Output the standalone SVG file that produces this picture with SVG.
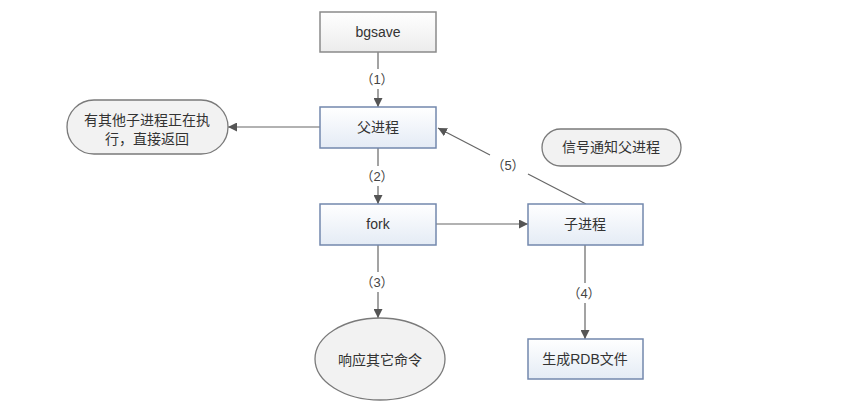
<svg xmlns="http://www.w3.org/2000/svg" width="861" height="408" viewBox="0 0 861 408">
<defs>
<linearGradient id="gGray" x1="0" y1="0" x2="0" y2="1"><stop offset="0" stop-color="#ffffff"/><stop offset="1" stop-color="#ececec"/></linearGradient>
<linearGradient id="gBlue" x1="0" y1="0" x2="0" y2="1"><stop offset="0" stop-color="#ffffff"/><stop offset="1" stop-color="#e4ebf5"/></linearGradient>
<marker id="arr" viewBox="0 0 10 10" refX="10" refY="5" markerWidth="9" markerHeight="9" markerUnits="userSpaceOnUse" orient="auto"><path d="M0,0 L10,5 L0,10 z" fill="#555"/></marker>
<style>
.gray{fill:url(#gGray);stroke:#8a8a8a;stroke-width:1.5}
.blue{fill:url(#gBlue);stroke:#7388ad;stroke-width:1.5}
.term{fill:#f2f2f2;stroke:#7a7a7a;stroke-width:1.3}
.t{font-family:"Liberation Sans","Noto Sans CJK SC",sans-serif;font-size:14px;fill:#333;text-anchor:middle;dominant-baseline:central}
.lbl{font-family:"Liberation Sans","Noto Sans CJK SC",sans-serif;font-size:13px;fill:#444;text-anchor:middle;dominant-baseline:central}
.c{stroke:#666;stroke-width:1.2;fill:none}
</style>
</defs>
<rect width="861" height="408" fill="#ffffff"/>
<g id="connectors">
<line class="c" x1="378" y1="52" x2="378" y2="69"/>
<line class="c" x1="378" y1="89" x2="378" y2="107" marker-end="url(#arr)"/>
<line class="c" x1="320" y1="127" x2="228" y2="127" marker-end="url(#arr)"/>
<line class="c" x1="378" y1="148" x2="378" y2="166"/>
<line class="c" x1="378" y1="186" x2="378" y2="204" marker-end="url(#arr)"/>
<line class="c" x1="436" y1="224" x2="528" y2="224" marker-end="url(#arr)"/>
<line class="c" x1="378" y1="245" x2="378" y2="272"/>
<line class="c" x1="378" y1="292" x2="378" y2="318" marker-end="url(#arr)"/>
<line class="c" x1="585" y1="245" x2="585" y2="283"/>
<line class="c" x1="585" y1="303" x2="585" y2="339" marker-end="url(#arr)"/>
<line class="c" x1="586" y1="204" x2="528" y2="174"/>
<line class="c" x1="490" y1="155" x2="438" y2="128" marker-end="url(#arr)"/>
<text class="lbl" x="377" y="79">（1）</text>
<text class="lbl" x="377" y="176">（2）</text>
<text class="lbl" x="377" y="282">（3）</text>
<text class="lbl" x="584" y="293">（4）</text>
<text class="lbl" x="508" y="165">（5）</text>
</g>
<g id="bgsave"><rect class="gray" x="320" y="12" width="116" height="40"/><text class="t" x="378" y="32">bgsave</text></g>
<g id="parent"><rect class="blue" x="320" y="107" width="116" height="41"/><text class="t" x="378" y="127">父进程</text></g>
<g id="other"><rect class="term" x="67" y="100" width="161" height="54" rx="27" ry="27"/><text class="t" x="147" y="120">有其他子进程正在执</text><text class="t" x="147" y="139">行，直接返回</text></g>
<g id="fork"><rect class="blue" x="320" y="204" width="116" height="41"/><text class="t" x="378" y="224">fork</text></g>
<g id="child"><rect class="blue" x="528" y="204" width="115" height="41"/><text class="t" x="585" y="224">子进程</text></g>
<g id="signal"><rect class="term" x="542" y="129" width="139" height="37" rx="18.5" ry="18.5"/><text class="t" x="611" y="147">信号通知父进程</text></g>
<g id="respond"><ellipse class="term" cx="380" cy="359" rx="65" ry="41"/><text class="t" x="380" y="360">响应其它命令</text></g>
<g id="rdb"><rect class="blue" x="528" y="339" width="115" height="40"/><text class="t" x="585" y="359">生成RDB文件</text></g>
</svg>
